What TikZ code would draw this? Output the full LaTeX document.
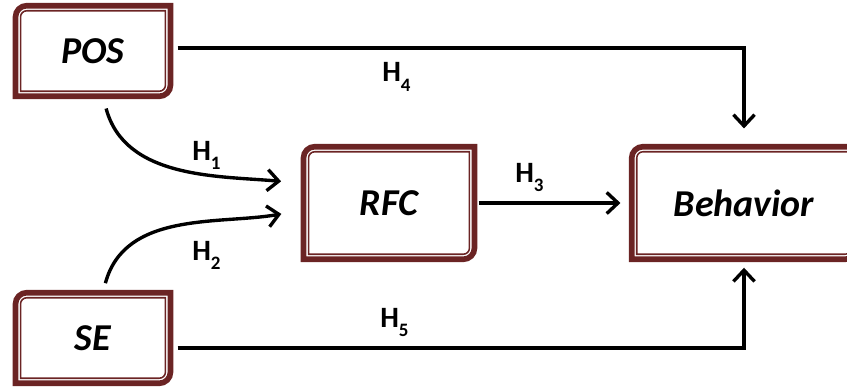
\documentclass[tikz,border=0pt]{standalone}
\usepackage{fontspec}
\setmainfont{Carlito}
\usetikzlibrary{arrows.meta}
\definecolor{bordeaux}{RGB}{107,36,36}

\tikzset{
  fattore/.style={minimum width=#1, minimum height=2.25cm, inner sep=0pt,
    font=\bfseries\itshape\fontsize{27}{32}\selectfont},
  ipotesi/.style={font=\bfseries\fontsize{21}{24}\selectfont, inner sep=0pt, anchor=base west},
  freccia/.style={line width=2.4pt, -{Straight Barb[length=8pt,width=15pt,line width=2.4pt]}},
  cornice/.style 2 args={insert path={
    ([shift={(#2,#2)}]#1.south west) -- ([shift={(#2,-8pt)}]#1.north west)
    arc[start angle=180, end angle=90, radius=8pt-#2]
    -- ([shift={(-#2,-#2)}]#1.north east) -- ([shift={(-#2,8pt)}]#1.south east)
    arc[start angle=0, end angle=-90, radius=8pt-#2] -- cycle}}
}
\newcommand{\pedice}[1]{\raisebox{-6.5pt}{\fontsize{13.5}{14}\selectfont #1}}

\begin{document}
\begin{tikzpicture}[x=0.025cm, y=-0.025cm]
  \useasboundingbox (0,0) rectangle (847,387);

  % riquadri
  \node[fattore=3.86cm] (pos) at (93,51) {POS};
  \node[fattore=3.86cm] (se) at (93,338) {SE};
  \node[fattore=4.26cm, minimum height=2.8cm] (rfc) at (389,203) {RFC};
  \node[fattore=5.6cm, minimum height=2.8cm] (beh) at (744,203) {Behavior};

  % cornici doppie
  \foreach \n in {pos,se,rfc,beh} {
    \draw[bordeaux, line width=4pt, cornice={\n}{0pt}];
    \draw[bordeaux, line width=1.1pt, cornice={\n}{3.6pt}];
  }

  % frecce
  \draw[freccia, shorten <=9pt, shorten >=16pt]
    ([xshift=7pt]pos.south) to[out=-75, in=175] ([yshift=14pt]rfc.west);
  \draw[freccia, shorten <=7pt, shorten >=16pt]
    ([xshift=7pt]se.north) to[out=75, in=-170] ([yshift=-5pt]rfc.west);
  \draw[freccia, shorten <=3pt, shorten >=8pt] (rfc.east) -- (beh.west);
  \draw[freccia, shorten <=5pt, shorten >=13pt]
    ([yshift=2pt]pos.east) -| (beh.north);
  \draw[freccia, shorten <=5pt, shorten >=6pt]
    ([yshift=-7pt]se.east) -| (beh.south);

  % etichette
  \node[ipotesi] (h1) at (192,160) {H\pedice{1}};
  \node[ipotesi] (h2) at (192,260) {H\pedice{2}};
  \node[ipotesi] (h3) at (515,182) {H\pedice{3}};
  \node[ipotesi] (h4) at (382,82) {H\pedice{4}};
  \node[ipotesi] (h5) at (380,327) {H\pedice{5}};
\end{tikzpicture}
\end{document}
